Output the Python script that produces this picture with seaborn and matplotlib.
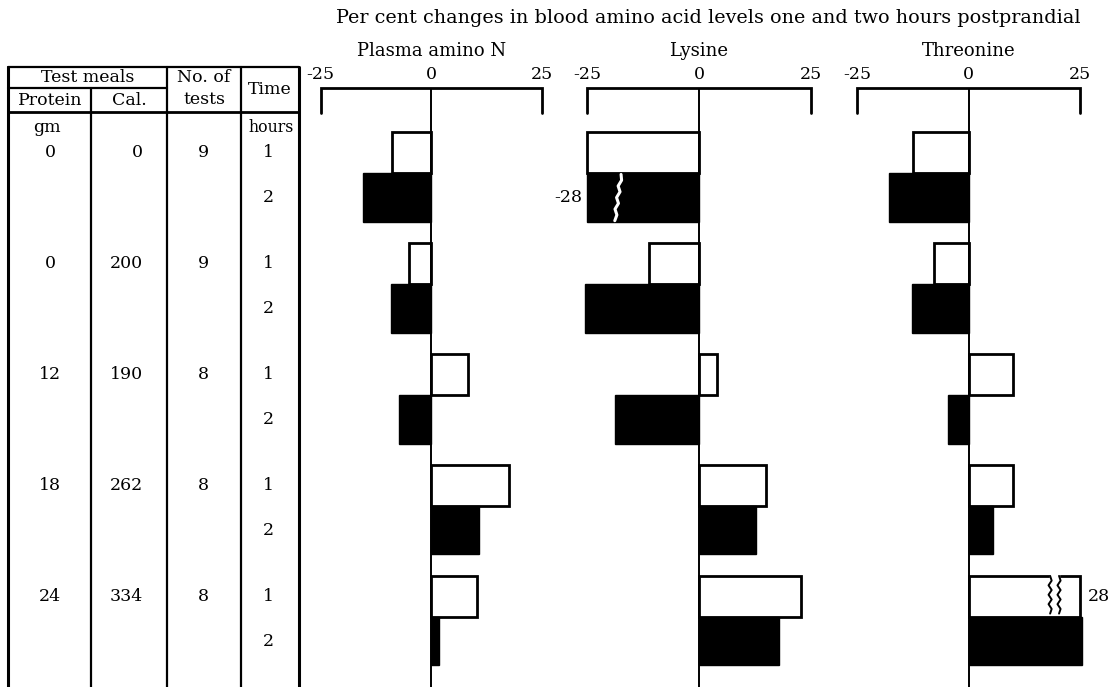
import numpy as np
import pandas as pd
import seaborn as sns
import matplotlib
matplotlib.use("Agg")
import matplotlib.pyplot as plt

# per cent change values (groups = test meals)
panel_names = ["Plasma amino N", "Lysine", "Threonine"]
protein = [0, 0, 12, 18, 24]
calories = [0, 200, 190, 262, 334]
n_tests = [9, 9, 8, 8, 8]
hours = [1, 2]
plasma_1h = [-8.8, -5.1, 8.3, 17.7, 10.4]
plasma_2h = [-15.5, -9.0, -7.2, 10.8, 1.7]
lysine_1h = [-24.9, -11.1, 4.1, 15.0, 22.8]
lysine_2h = [-28, -25.4, -18.8, 12.8, 17.8]
threonine_1h = [-12.5, -7.8, 10.0, 10.0, 28]
threonine_2h = [-17.9, -12.6, -4.6, 5.5, 25.4]
tick_vals = [-25, 0, 25]
tick_labels = ["-25", "0", "25"]

values_1h = [plasma_1h, lysine_1h, threonine_1h]
values_2h = [plasma_2h, lysine_2h, threonine_2h]

# layout (pixels of the 1112x687 canvas)
W, H = 1112, 687
Y0, DY = 132.3, 110.9          # top of first group, distance between groups
AX_TOP, AX_BOT = 88, 687
panel_px = [(320.7, 541.7), (587, 811), (857, 1080)]   # x of -25 and 25
XL = 30
OFF1, H1 = 0.185, 0.37
OFF2, H2 = 0.5885, 0.437
FS = 12.5

sns.set_style("white")
plt.rcParams["font.family"] = ["DejaVu Serif"]
plt.rcParams["font.size"] = FS
plt.rcParams["text.color"] = "black"
plt.rcParams["xtick.color"] = "black"

fig = plt.figure(figsize=(W / 100, H / 100), dpi=100)

# background axes in pixel coordinates for the table and titles
bg = fig.add_axes([0, 0, 1, 1])
bg.set_xlim(0, W)
bg.set_ylim(H, 0)
bg.axis("off")


def row_px(g, off):
    return Y0 + DY * (g + off)


def shown(v):
    return [np.sign(x) * 25 if abs(x) > 26 else x for x in v]


def zigzag(ax, x, y_top, y_bot, amp, n, color, lw, slant=0.0):
    ys = np.linspace(y_top, y_bot, n)
    xs = [x + slant * k / (n - 1) + (amp if k % 2 else -amp) for k in range(n)]
    xs[0] = x
    xs[-1] = x + slant
    ax.plot(xs, ys, color=color, lw=lw, zorder=6, clip_on=False)


bg.text(708, 18, "Per cent changes in blood amino acid levels one and two hours postprandial",
        ha="center", va="center", fontsize=13.8)

# table
lw_t = 1.6
for x in [8, 91, 167, 241, 299]:
    y_start = 88 if x == 91 else 67
    bg.plot([x, x], [y_start, H], color="black", lw=lw_t if x not in (8, 299) else 2.2)
bg.plot([8, 299], [67, 67], color="black", lw=lw_t)
bg.plot([8, 167], [88, 88], color="black", lw=lw_t)
bg.plot([8, 299], [112, 112], color="black", lw=2.0)
bg.text(88, 77.5, "Test meals", ha="center", va="center", fontsize=FS)
bg.text(50, 100.5, "Protein", ha="center", va="center", fontsize=FS)
bg.text(129, 100.5, "Cal.", ha="center", va="center", fontsize=FS)
bg.text(204, 78, "No. of", ha="center", va="center", fontsize=FS)
bg.text(204, 100, "tests", ha="center", va="center", fontsize=FS)
bg.text(270, 90, "Time", ha="center", va="center", fontsize=FS)
bg.text(47, 127, "gm", ha="center", va="center", fontsize=FS)
bg.text(271, 127, "hours", ha="center", va="center", fontsize=11.3)
for g in range(len(protein)):
    y1 = row_px(g, OFF1)
    bg.text(50, y1, str(protein[g]), ha="center", va="center", fontsize=FS)
    bg.text(143, y1, str(calories[g]), ha="right", va="center", fontsize=FS)
    bg.text(203, y1, str(n_tests[g]), ha="center", va="center", fontsize=FS)
    bg.text(268, y1, str(hours[0]), ha="center", va="center", fontsize=FS)
    bg.text(268, row_px(g, OFF2), str(hours[1]), ha="center", va="center", fontsize=FS)

groups = np.arange(len(protein))
y_lo = (AX_BOT - Y0) / DY
y_hi = (AX_TOP - Y0) / DY
y_tick_end = (113 - Y0) / DY

for i, name in enumerate(panel_names):
    left, right = panel_px[i]
    ppu = (right - left) / 50
    zero = (left + right) / 2
    ax = fig.add_axes([(zero - XL * ppu) / W, 0, 2 * XL * ppu / W, (AX_BOT - AX_TOP) / H])
    ax.patch.set_alpha(0)

    d1 = pd.DataFrame({"pos": groups + OFF1, "val": shown(values_1h[i])})
    d2 = pd.DataFrame({"pos": groups + OFF2, "val": shown(values_2h[i])})
    sns.barplot(data=d1, x="val", y="pos", orient="h", native_scale=True, width=H1,
                color="white", edgecolor="black", linewidth=2.0, saturation=1,
                errorbar=None, ax=ax)
    sns.barplot(data=d2, x="val", y="pos", orient="h", native_scale=True, width=H2,
                color="black", edgecolor="black", linewidth=1.0, saturation=1,
                errorbar=None, ax=ax)

    ax.axvline(0, color="black", lw=1.4, zorder=5)
    ax.plot([-25, -25, 25, 25], [y_tick_end, y_hi, y_hi, y_tick_end], color="black",
            lw=2.0, clip_on=False, zorder=5, solid_joinstyle="miter")

    ax.set_xlim(-XL, XL)
    ax.set_ylim(y_lo, y_hi)
    ax.xaxis.tick_top()
    ax.set_xticks(tick_vals)
    ax.set_xticklabels(tick_labels)
    ax.tick_params(axis="x", length=0, pad=3.5, labelsize=FS, colors="black")
    ax.set_yticks([])
    ax.set_xlabel("")
    ax.set_ylabel("")
    for s in ax.spines.values():
        s.set_visible(False)
    bg.text(zero, 51, name, ha="center", va="center", fontsize=13)

    # broken bars, labelled with their real value
    for g in groups:
        for off, h, vals in [(OFF1, H1, values_1h[i]), (OFF2, H2, values_2h[i])]:
            v = vals[g]
            if abs(v) <= 26:
                continue
            yt, yb = g + off - h / 2, g + off + h / 2
            if v < 0:
                zigzag(ax, -17.4, yt + 0.01, yb - 0.01, 0.3, 9, "white", 2.2, slant=-1.4)
                ax.text(-26.0, g + off, f"-{abs(v):g}", ha="right", va="center", fontsize=FS)
            else:
                ax.add_patch(plt.Rectangle((18.3, yt - 0.03), 2.0, h - 0.04, color="white",
                                           zorder=5.5, clip_on=False))
                zigzag(ax, 18.3, yt, yb - 0.03, 0.35, 9, "black", 1.4)
                zigzag(ax, 20.3, yt, yb - 0.03, 0.35, 9, "black", 1.4)
                ax.text(26.8, g + off, f"{v:g}", ha="left", va="center", fontsize=FS)

fig.savefig("out.png", dpi=100)
